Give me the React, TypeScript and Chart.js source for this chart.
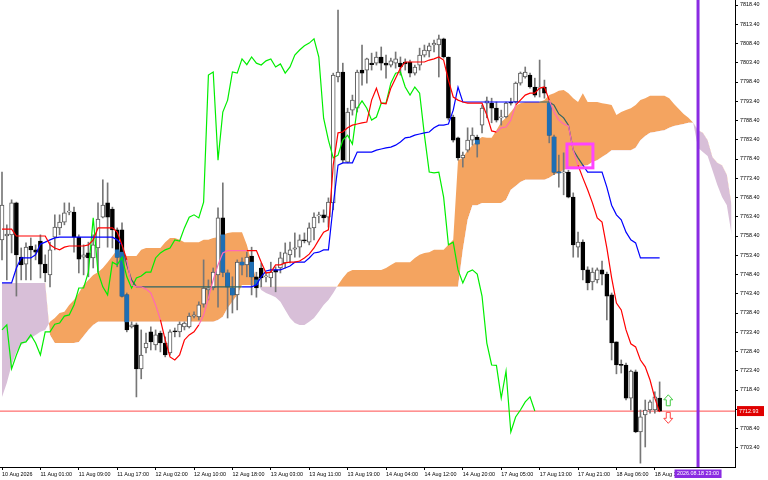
import React, { useEffect, useRef } from 'react';
import { Chart, registerables } from 'chart.js';

Chart.register(...registerables);

// ---------- data (hourly bars, index 0 = 10 Aug 2026) ----------
const openP: number[] = [
  7757.4, 7758.4, 7758.7, 7767.0, 7752.9, 7751.1, 7755.8, 7754.8, 7757.1, 7751.1,
  7748.3, 7758.1, 7760.5, 7762.0, 7764.6, 7764.6, 7758.1, 7752.9, 7754.0, 7752.7,
  7755.3, 7763.3, 7767.0, 7765.4, 7760.0, 7760.0, 7743.1, 7734.8, 7735.3, 7723.9,
  7729.3, 7733.5, 7730.1, 7733.2, 7730.6, 7728.0, 7733.7, 7733.5, 7734.8, 7734.8,
  7737.6, 7737.4, 7740.7, 7744.4, 7744.9, 7748.3, 7763.1, 7748.8, 7744.9, 7743.1,
  7751.6, 7750.9, 7753.2, 7747.8, 7750.1, 7747.8, 7747.5, 7749.6, 7750.1, 7751.4,
  7753.5, 7755.0, 7755.5, 7757.4, 7756.8, 7760.5, 7763.6, 7763.9, 7763.3, 7767.0,
  7799.7, 7801.0, 7777.6, 7791.1, 7791.6, 7801.5, 7801.5, 7803.3, 7803.3, 7804.9,
  7803.3, 7802.8, 7803.3, 7803.3, 7803.6, 7803.6, 7800.7, 7802.8, 7805.4, 7806.5,
  7808.0, 7808.0, 7809.6, 7804.9, 7789.3, 7783.9, 7778.7, 7780.7, 7783.3, 7784.1,
  7787.2, 7792.9, 7792.9, 7791.6, 7789.1, 7789.3, 7793.2, 7793.2, 7798.1, 7799.7,
  7800.2, 7797.1, 7796.8, 7797.1, 7792.9, 7784.1, 7775.0, 7774.8, 7775.0, 7768.5,
  7755.5, 7756.8, 7749.6, 7746.5, 7747.0, 7749.6, 7748.5, 7743.1, 7730.9, 7724.9,
  7724.9, 7716.3, 7723.1, 7707.5, 7711.9, 7713.2, 7713.2, 7716.3,
];
const highP: number[] = [
  7775.0, 7761.3, 7767.8, 7767.2, 7755.3, 7756.6, 7757.9, 7756.1, 7758.7, 7753.5,
  7756.8, 7763.9, 7763.9, 7767.0, 7767.0, 7765.9, 7758.7, 7756.1, 7756.8, 7758.7,
  7767.0, 7773.0, 7772.2, 7765.9, 7760.5, 7761.8, 7743.6, 7736.1, 7735.8, 7734.0,
  7733.2, 7734.8, 7734.0, 7733.7, 7732.2, 7734.0, 7734.5, 7736.1, 7736.1, 7738.4,
  7738.7, 7741.3, 7752.2, 7747.0, 7750.1, 7765.7, 7772.2, 7749.6, 7747.8, 7752.2,
  7752.7, 7754.2, 7755.5, 7749.0, 7751.4, 7748.8, 7751.6, 7750.4, 7754.2, 7756.6,
  7756.8, 7759.2, 7758.7, 7759.2, 7761.8, 7764.4, 7764.6, 7765.2, 7768.3, 7800.7,
  7817.1, 7803.3, 7791.6, 7795.0, 7801.5, 7808.0, 7804.6, 7805.9, 7806.2, 7807.5,
  7805.4, 7804.6, 7806.2, 7804.9, 7804.4, 7804.1, 7802.8, 7807.2, 7808.0, 7808.5,
  7809.3, 7810.6, 7809.8, 7804.9, 7789.8, 7784.1, 7780.2, 7786.5, 7786.5, 7784.6,
  7792.4, 7794.5, 7794.2, 7793.2, 7791.1, 7793.2, 7794.2, 7798.4, 7801.0, 7802.3,
  7800.7, 7799.4, 7804.1, 7798.9, 7793.7, 7784.6, 7779.4, 7780.0, 7775.5, 7769.6,
  7759.4, 7757.4, 7750.4, 7750.1, 7750.1, 7751.9, 7749.0, 7743.6, 7730.9, 7726.2,
  7725.4, 7723.6, 7723.6, 7713.2, 7715.8, 7715.8, 7717.9, 7720.5,
];
const lowP: number[] = [
  7752.2, 7747.0, 7754.0, 7742.8, 7747.0, 7747.0, 7747.0, 7752.2, 7747.5, 7746.5,
  7745.2, 7754.8, 7758.7, 7761.3, 7763.9, 7754.2, 7748.8, 7748.3, 7747.8, 7750.1,
  7749.0, 7763.1, 7755.5, 7755.3, 7750.4, 7742.5, 7733.5, 7734.5, 7716.6, 7721.3,
  7728.0, 7728.8, 7728.8, 7728.3, 7727.0, 7727.5, 7732.2, 7732.2, 7734.0, 7734.5,
  7737.1, 7736.6, 7739.9, 7741.8, 7744.4, 7739.9, 7747.8, 7737.1, 7738.4, 7739.2,
  7748.3, 7747.8, 7743.1, 7742.5, 7745.2, 7746.5, 7745.2, 7743.9, 7748.8, 7750.1,
  7751.4, 7752.9, 7752.9, 7756.6, 7756.1, 7757.4, 7761.8, 7762.0, 7760.7, 7765.2,
  7798.4, 7777.4, 7777.4, 7789.8, 7790.6, 7797.6, 7798.1, 7801.5, 7802.8, 7801.5,
  7799.4, 7802.3, 7802.0, 7800.2, 7801.5, 7799.7, 7800.2, 7801.5, 7804.9, 7804.9,
  7806.2, 7799.7, 7804.6, 7788.5, 7782.8, 7778.1, 7776.3, 7780.2, 7782.0, 7778.9,
  7785.2, 7789.1, 7787.8, 7788.0, 7787.2, 7789.1, 7792.4, 7792.9, 7797.6, 7799.4,
  7796.8, 7794.5, 7794.5, 7794.2, 7782.6, 7774.3, 7771.1, 7769.1, 7768.3, 7752.9,
  7752.9, 7747.0, 7744.4, 7744.4, 7746.2, 7745.7, 7736.6, 7726.2, 7722.6, 7722.8,
  7715.8, 7713.2, 7707.3, 7699.4, 7703.6, 7712.4, 7712.4, 7712.8,
];
const closeP: number[] = [
  7766.4, 7758.9, 7767.0, 7753.5, 7750.9, 7755.5, 7754.8, 7754.2, 7751.1, 7748.8,
  7754.8, 7760.7, 7762.0, 7764.4, 7764.9, 7758.1, 7752.4, 7753.5, 7752.7, 7756.1,
  7762.8, 7766.4, 7763.3, 7760.0, 7752.9, 7742.8, 7734.0, 7735.3, 7723.9, 7727.5,
  7730.6, 7730.9, 7732.7, 7730.6, 7727.5, 7733.5, 7733.5, 7735.5, 7735.8, 7737.6,
  7737.9, 7740.5, 7744.9, 7744.9, 7749.0, 7763.1, 7749.0, 7745.2, 7743.1, 7751.6,
  7750.9, 7752.9, 7747.8, 7744.9, 7747.5, 7748.0, 7749.0, 7749.0, 7752.7, 7754.0,
  7754.8, 7755.3, 7757.4, 7757.1, 7760.5, 7763.3, 7763.9, 7763.1, 7767.2, 7800.2,
  7801.0, 7778.1, 7790.6, 7793.7, 7801.0, 7800.7, 7804.4, 7802.9, 7804.9, 7803.3,
  7802.8, 7803.9, 7804.4, 7802.3, 7803.1, 7800.7, 7802.3, 7805.4, 7806.7, 7807.8,
  7808.5, 7809.6, 7804.9, 7789.0, 7783.3, 7778.7, 7779.4, 7783.3, 7784.6, 7782.3,
  7791.6, 7793.5, 7791.6, 7788.5, 7789.3, 7792.9, 7792.9, 7798.1, 7800.7, 7801.0,
  7797.1, 7795.0, 7797.1, 7795.5, 7784.6, 7775.0, 7774.8, 7775.0, 7768.5, 7756.1,
  7756.8, 7749.6, 7746.2, 7749.0, 7749.6, 7748.5, 7742.8, 7730.6, 7724.9, 7724.8,
  7716.3, 7723.3, 7707.5, 7711.4, 7713.2, 7715.3, 7716.6, 7712.93,
];

// Tenkan-sen (red)
const tenkan: number[] = [
  7760.2, 7760.2, 7760.2, 7758.4, 7758.4, 7758.4, 7758.4, 7758.4, 7758.4, 7758.4,
  7756.1, 7755.3, 7754.8, 7755.5, 7755.8, 7755.8, 7755.8, 7755.8, 7756.1, 7757.4,
  7760.5, 7760.5, 7760.5, 7760.5, 7759.4, 7756.1, 7752.2, 7745.7, 7745.2, 7745.2,
  7744.6, 7743.6, 7740.5, 7736.6, 7731.4, 7727.0, 7726.2, 7727.5, 7731.4, 7732.7,
  7733.5, 7735.3, 7737.9, 7742.3, 7747.0, 7750.9, 7754.0, 7754.6, 7754.6, 7754.6,
  7754.6, 7754.6, 7754.6, 7754.6, 7751.6, 7748.8, 7749.0, 7750.9, 7750.9, 7751.4,
  7751.6, 7751.6, 7751.9, 7752.7, 7753.7, 7755.3, 7757.4, 7759.4, 7760.0, 7776.8,
  7785.2, 7785.4, 7786.5, 7787.2, 7787.5, 7787.8, 7788.0, 7793.7, 7796.8, 7792.9,
  7792.7, 7796.8, 7799.4, 7802.0, 7803.6, 7803.6, 7803.6, 7803.6, 7803.6, 7804.1,
  7804.4, 7804.9, 7804.1, 7798.9, 7794.5, 7793.7, 7793.2, 7792.9, 7792.9, 7792.9,
  7792.9, 7789.8, 7785.7, 7785.4, 7786.5, 7786.7, 7788.5, 7792.4, 7793.7, 7795.0,
  7795.5, 7795.5, 7796.8, 7797.1, 7793.7, 7790.6, 7788.5, 7787.5, 7787.0, 7780.7,
  7776.8, 7773.5, 7770.4, 7767.0, 7763.1, 7762.0, 7755.3, 7747.5, 7741.0, 7739.2,
  7734.0, 7730.4, 7729.6, 7726.2, 7724.4, 7721.0, 7716.3, 7712.7,
];

// Kijun-sen (blue)
const kijun: number[] = [
  7746.2, 7746.2, 7746.2, 7750.1, 7752.7, 7752.7, 7752.7, 7753.5, 7756.3, 7756.8,
  7757.4, 7757.9, 7758.1, 7758.1, 7758.1, 7758.1, 7758.1, 7758.1, 7758.1, 7758.1,
  7758.1, 7758.1, 7758.1, 7758.1, 7757.4, 7756.1, 7750.9, 7747.0, 7745.2, 7745.2,
  7745.2, 7745.2, 7745.2, 7745.2, 7745.2, 7745.2, 7745.2, 7745.2, 7745.2, 7745.2,
  7745.2, 7745.2, 7745.2, 7745.2, 7745.2, 7745.2, 7745.2, 7745.2, 7745.2, 7745.2,
  7745.2, 7745.2, 7745.2, 7745.7, 7747.8, 7749.3, 7749.6, 7749.6, 7749.6, 7750.1,
  7750.6, 7751.6, 7751.6, 7751.6, 7752.7, 7754.0, 7754.2, 7754.8, 7754.8, 7766.4,
  7776.8, 7777.4, 7777.4, 7777.4, 7780.2, 7780.2, 7780.2, 7780.2, 7780.7, 7781.0,
  7781.3, 7781.5, 7782.0, 7782.8, 7783.9, 7784.1, 7784.6, 7784.9, 7785.2, 7785.4,
  7786.5, 7787.2, 7787.2, 7787.5, 7791.1, 7797.1, 7793.2, 7793.2, 7793.2, 7793.2,
  7793.2, 7793.2, 7793.2, 7793.2, 7793.2, 7793.2, 7793.2, 7793.2, 7793.2, 7793.2,
  7793.2, 7793.2, 7793.2, 7793.2, 7793.2, 7792.4, 7790.1, 7789.1, 7787.2, 7780.7,
  7778.7, 7776.8, 7775.0, 7775.0, 7775.0, 7775.0, 7771.1, 7766.4, 7763.9, 7762.6,
  7759.4, 7757.4, 7756.6, 7752.7, 7752.7, 7752.7, 7752.7, 7752.7,
];

// Senkou Span A / B, already displaced 26 bars forward (index 0..152)
const spanA: number[] = [
  7716.6, 7720.2, 7724.9, 7728.3, 7730.1, 7730.9, 7731.9, 7732.7, 7733.5, 7734.0,
  7736.1, 7737.1, 7738.4, 7738.7, 7740.5, 7741.8, 7743.6, 7745.7, 7747.0, 7748.3,
  7749.0, 7750.1, 7751.6, 7753.2, 7754.8, 7754.2, 7753.2, 7753.2, 7753.2, 7754.8,
  7755.3, 7755.3, 7755.3, 7755.3, 7756.8, 7757.9, 7757.9, 7757.4, 7756.8, 7756.8,
  7756.8, 7756.8, 7757.4, 7757.4, 7757.9, 7758.1, 7758.7, 7759.2, 7759.4, 7759.4,
  7759.4, 7756.1, 7751.6, 7747.0, 7744.4, 7743.6, 7743.1, 7742.5, 7741.3, 7739.2,
  7737.1, 7735.8, 7735.3, 7735.3, 7736.1, 7737.1, 7738.7, 7740.5, 7741.8, 7743.6,
  7745.7, 7747.5, 7749.0, 7749.6, 7749.6, 7749.6, 7749.6, 7749.6, 7749.6, 7749.6,
  7750.1, 7750.9, 7751.6, 7751.6, 7751.6, 7751.6, 7752.7, 7753.5, 7754.0, 7754.2,
  7754.8, 7754.8, 7754.8, 7756.1, 7757.4, 7778.1, 7778.7, 7780.7, 7782.0, 7783.3,
  7784.1, 7783.9, 7783.9, 7785.9, 7788.0, 7789.1, 7790.6, 7792.2, 7792.9, 7793.2,
  7793.2, 7793.2, 7793.2, 7793.7, 7795.0, 7795.5, 7796.1, 7796.3, 7795.5, 7794.2,
  7793.2, 7795.5, 7793.2, 7793.2, 7793.2, 7792.9, 7792.7, 7792.4, 7789.8, 7790.6,
  7791.1, 7791.6, 7792.4, 7793.7, 7794.2, 7794.8, 7794.8, 7794.8, 7794.8, 7794.2,
  7792.7, 7791.4, 7790.1, 7789.1, 7787.8, 7781.3, 7780.2, 7779.2, 7775.5, 7771.7,
  7768.5, 7766.4, 7758.7,
];
const spanB: number[] = [
  7746.2, 7746.2, 7746.2, 7746.2, 7746.2, 7746.2, 7746.2, 7746.2, 7746.2, 7746.2,
  7732.7, 7730.6, 7730.6, 7730.6, 7730.6, 7730.6, 7730.9, 7732.4, 7734.0, 7735.3,
  7736.1, 7736.1, 7736.1, 7736.1, 7736.1, 7736.1, 7736.1, 7736.1, 7736.1, 7736.1,
  7736.1, 7736.1, 7736.1, 7736.1, 7736.1, 7736.1, 7736.1, 7736.1, 7736.1, 7736.1,
  7736.1, 7736.1, 7736.1, 7736.1, 7736.1, 7736.6, 7737.4, 7739.7, 7741.3, 7743.1,
  7745.7, 7745.7, 7745.7, 7745.7, 7745.2, 7745.2, 7745.2, 7745.2, 7745.2, 7745.2,
  7745.2, 7745.2, 7745.2, 7745.2, 7745.2, 7745.2, 7745.2, 7745.2, 7745.2, 7745.2,
  7745.2, 7745.2, 7745.2, 7745.2, 7745.2, 7745.2, 7745.2, 7745.2, 7745.2, 7745.2,
  7745.2, 7745.2, 7745.2, 7745.2, 7745.2, 7745.2, 7745.2, 7745.2, 7745.2, 7745.2,
  7745.2, 7745.2, 7745.2, 7745.2, 7745.2, 7745.2, 7754.8, 7762.6, 7766.4, 7766.4,
  7767.0, 7767.0, 7767.0, 7767.0, 7767.0, 7767.8, 7770.4, 7771.4, 7772.4, 7773.0,
  7773.0, 7773.0, 7773.0, 7773.0, 7773.5, 7774.3, 7774.8, 7775.5, 7776.1, 7776.1,
  7776.3, 7776.6, 7776.8, 7777.6, 7778.1, 7778.9, 7779.7, 7780.7, 7780.7, 7780.7,
  7780.7, 7780.7, 7781.3, 7783.3, 7784.4, 7785.2, 7785.4, 7785.7, 7785.9, 7786.5,
  7787.0, 7787.2, 7787.5, 7787.8, 7787.8, 7785.9, 7785.2, 7783.3, 7778.9, 7777.4,
  7776.8, 7774.3, 7766.4,
];

const chikouShift = 26;

const xTickIdx: number[] = [0, 8, 16, 24, 32, 40, 48, 56, 64, 72, 80, 88, 96, 104, 112, 120, 128, 136];
const xTickLabels: string[] = [
  '10 Aug 2026', '11 Aug 01:00', '11 Aug 09:00', '11 Aug 17:00', '12 Aug 02:00', '12 Aug 10:00',
  '12 Aug 18:00', '13 Aug 03:00', '13 Aug 11:00', '13 Aug 19:00', '14 Aug 04:00', '14 Aug 12:00',
  '14 Aug 20:00', '17 Aug 05:00', '17 Aug 13:00', '17 Aug 21:00', '18 Aug 06:00', '18 Aug 14:00',
];
const yTicks: number[] = [
  7703.4, 7708.4, 7713.4, 7718.4, 7723.4, 7728.4, 7733.4, 7738.4, 7743.4, 7748.4, 7753.4, 7758.4,
  7763.4, 7768.4, 7773.4, 7778.4, 7783.4, 7788.4, 7793.4, 7798.4, 7803.4, 7808.4, 7813.4, 7818.4,
];

const lastPrice = 7712.93;
const vlineIdx = 145;
const vlineLabel = '2026.08.18 23:00';
const boxX: number[] = [117.7, 123.1];
const boxY: number[] = [7782.3, 7776.1];
const arrowUpAt: number[] = [138.8, 7714.3];
const arrowDownAt: number[] = [138.8, 7712.6];

// ---------- view config ----------
const X_MIN = -0.417;
const X_MAX = 152.7;
const Y_MIN = 7698.4;
const Y_MAX = 7819.7;
const FONT = { family: 'Liberation Sans, Arial, sans-serif', size: 5.4 };

function drawArrow(ctx: CanvasRenderingContext2D, cx: number, baseY: number, dir: number, color: string) {
  const hw = 4.5, sw = 2, headH = 5, total = 11;
  const tipY = baseY + dir * total;
  const neckY = tipY - dir * headH;
  ctx.beginPath();
  ctx.moveTo(cx, tipY);
  ctx.lineTo(cx + hw, neckY);
  ctx.lineTo(cx + sw, neckY);
  ctx.lineTo(cx + sw, baseY);
  ctx.lineTo(cx - sw, baseY);
  ctx.lineTo(cx - sw, neckY);
  ctx.lineTo(cx - hw, neckY);
  ctx.closePath();
  ctx.fillStyle = '#ffffff';
  ctx.fill();
  ctx.strokeStyle = color;
  ctx.lineWidth = 1;
  ctx.stroke();
}

const mtPlugin = {
  id: 'mtOverlay',
  beforeDatasetsDraw(chart: any) {
    const { ctx, chartArea: a, scales } = chart;
    const py = scales.y.getPixelForValue(lastPrice);
    ctx.save();
    ctx.fillStyle = '#ff7777';
    ctx.fillRect(a.left, Math.round(py) - 0.5, a.right - a.left, 1.3);
    ctx.restore();
  },
  afterDatasetsDraw(chart: any) {
    const { ctx, chartArea: a, scales } = chart;
    const x = scales.x, y = scales.y;
    ctx.save();
    // magenta rectangle
    const rx0 = x.getPixelForValue(boxX[0]), rx1 = x.getPixelForValue(boxX[1]);
    const ry0 = y.getPixelForValue(boxY[0]), ry1 = y.getPixelForValue(boxY[1]);
    ctx.strokeStyle = '#ff44ff';
    ctx.lineWidth = 3;
    ctx.strokeRect(rx0, ry0, rx1 - rx0, ry1 - ry0);
    // arrows
    drawArrow(ctx, x.getPixelForValue(arrowUpAt[0]), y.getPixelForValue(arrowUpAt[1]), -1, '#44cc44');
    drawArrow(ctx, x.getPixelForValue(arrowDownAt[0]), y.getPixelForValue(arrowDownAt[1]), 1, '#ff4444');
    // vertical line
    const vx = x.getPixelForValue(vlineIdx);
    ctx.strokeStyle = '#8a2be2';
    ctx.lineWidth = 3;
    ctx.beginPath();
    ctx.moveTo(vx, a.top);
    ctx.lineTo(vx, a.bottom);
    ctx.stroke();
    ctx.restore();
  },
  afterDraw(chart: any) {
    const { ctx, chartArea: a, scales } = chart;
    const x = scales.x, y = scales.y;
    ctx.save();
    ctx.font = `${FONT.size}px ${FONT.family}`;
    ctx.textBaseline = 'middle';
    // price label
    const py = y.getPixelForValue(lastPrice);
    ctx.fillStyle = '#e00000';
    ctx.fillRect(a.right + 2, py - 5, 27, 10);
    ctx.fillStyle = '#ffffff';
    ctx.textAlign = 'left';
    ctx.fillText(lastPrice.toFixed(2), a.right + 4, py + 0.5);
    // time label of the vertical line
    const vx = x.getPixelForValue(vlineIdx);
    ctx.fillStyle = '#8a2be2';
    ctx.fillRect(vx - 23.5, a.bottom + 2.5, 47, 8.5);
    ctx.fillStyle = '#ffffff';
    ctx.textAlign = 'center';
    ctx.fillText(vlineLabel, vx, a.bottom + 7);
    ctx.restore();
  },
};

function segIn(arr: number[], i0: number, i1: number) {
  const v = (arr[i0] + arr[i1]) / 2;
  const a = (spanA[i0] + spanA[i1]) / 2;
  const b = (spanB[i0] + spanB[i1]) / 2;
  return v < Math.max(a, b) && v > Math.min(a, b);
}

export default function App() {
  const ref = useRef<HTMLCanvasElement | null>(null);

  useEffect(() => {
    if (!ref.current) return;
    const idx = closeP.map((_, i) => i);
    const bull = idx.map((i) => closeP[i] >= openP[i]);

    const wicks = idx.map((i) => ({ x: i, y: [lowP[i], highP[i]] }));
    const bodies = idx.map((i) => ({ x: i, y: [Math.min(openP[i], closeP[i]), Math.max(openP[i], closeP[i])] }));
    const blue: any[] = [];
    idx.forEach((i) => {
      if (bull[i]) return;
      const top = Math.max(spanA[i], spanB[i]);
      const bot = Math.min(spanA[i], spanB[i]);
      const hi = Math.min(openP[i], top);
      const lo = Math.max(closeP[i], bot);
      if (hi > lo) blue.push({ x: i, y: [lo, hi] });
    });

    const chart = new Chart(ref.current, {
      type: 'line',
      data: {
        datasets: [
          {
            type: 'line',
            data: spanA.map((v, i) => ({ x: i, y: v })),
            borderColor: 'rgba(0,0,0,0)',
            borderWidth: 0,
            pointRadius: 0,
            fill: { target: '+1', above: '#f4a460', below: '#d8bfd8' },
            order: 100,
          },
          {
            type: 'line',
            data: spanB.map((v, i) => ({ x: i, y: v })),
            borderColor: 'rgba(0,0,0,0)',
            borderWidth: 0,
            pointRadius: 0,
            fill: false,
            order: 99,
          },
          {
            type: 'bar',
            data: wicks,
            backgroundColor: '#777777',
            borderWidth: 0,
            barThickness: 1,
            grouped: false,
            order: 50,
          },
          {
            type: 'bar',
            data: bodies,
            backgroundColor: bull.map((b) => (b ? '#ffffff' : '#000000')),
            borderColor: bull.map((b) => (b ? '#555555' : '#000000')),
            borderWidth: 1,
            borderSkipped: false,
            barThickness: 4,
            minBarLength: 1,
            grouped: false,
            order: 49,
          },
          {
            type: 'bar',
            data: blue,
            backgroundColor: '#1e6eb4',
            borderColor: '#1e6eb4',
            borderWidth: 0,
            borderSkipped: false,
            barThickness: 4,
            grouped: false,
            order: 48,
          },
          {
            type: 'line',
            data: closeP.slice(chikouShift).map((v, j) => ({ x: j, y: v })),
            borderColor: '#00ee00',
            borderWidth: 1.2,
            pointRadius: 0,
            fill: false,
            order: 3,
          },
          {
            type: 'line',
            data: kijun.map((v, i) => ({ x: i, y: v })),
            borderColor: '#0000ff',
            borderWidth: 1.2,
            pointRadius: 0,
            fill: false,
            order: 2,
            segment: {
              borderColor: (c: any) => (segIn(kijun, c.p0DataIndex, c.p1DataIndex) ? '#2e6464' : '#0000ff'),
            },
          },
          {
            type: 'line',
            data: tenkan.map((v, i) => ({ x: i, y: v })),
            borderColor: '#ff0000',
            borderWidth: 1.2,
            pointRadius: 0,
            fill: false,
            order: 1,
            segment: {
              borderColor: (c: any) => (segIn(tenkan, c.p0DataIndex, c.p1DataIndex) ? '#ff69b4' : '#ff0000'),
            },
          },
        ] as any,
      },
      options: {
        responsive: false,
        animation: false,
        devicePixelRatio: 1,
        events: [],
        layout: { padding: 0 },
        plugins: { legend: { display: false }, tooltip: { enabled: false } },
        scales: {
          x: {
            type: 'linear',
            min: X_MIN,
            max: X_MAX,
            offset: false,
            grid: { drawOnChartArea: false, drawTicks: true, tickLength: 3, color: '#000000', offset: false },
            border: { display: true, color: '#000000', width: 1 },
            ticks: {
              autoSkip: false,
              maxRotation: 0,
              minRotation: 0,
              align: 'start',
              padding: 1,
              color: '#000000',
              font: FONT,
              callback: (_v: any, i: number) => xTickLabels[i] ?? '',
            },
            afterBuildTicks: (s: any) => {
              s.ticks = xTickIdx.map((v) => ({ value: v }));
            },
            afterFit: (s: any) => {
              s.height = 13;
              s.paddingLeft = 0;
              s.paddingRight = 0;
            },
          },
          y: {
            type: 'linear',
            position: 'right',
            min: Y_MIN,
            max: Y_MAX,
            beginAtZero: false,
            grid: { drawOnChartArea: false, drawTicks: true, tickLength: 3, color: '#000000' },
            border: { display: true, color: '#000000', width: 1 },
            ticks: {
              autoSkip: false,
              padding: 2,
              color: '#000000',
              font: FONT,
              callback: (v: any) => Number(v).toFixed(2),
            },
            afterBuildTicks: (s: any) => {
              s.ticks = yTicks.map((v) => ({ value: v }));
            },
            afterFit: (s: any) => {
              s.width = 33;
              s.paddingTop = 0;
              s.paddingBottom = 0;
            },
          },
        },
      } as any,
      plugins: [mtPlugin],
    });
    return () => chart.destroy();
  }, []);

  return (
    <div style={{ position: 'fixed', left: 0, top: 0, width: 768, height: 480, background: '#ffffff' }}>
      <canvas ref={ref} width={768} height={480} style={{ display: 'block', width: 768, height: 480 }} />
    </div>
  );
}
